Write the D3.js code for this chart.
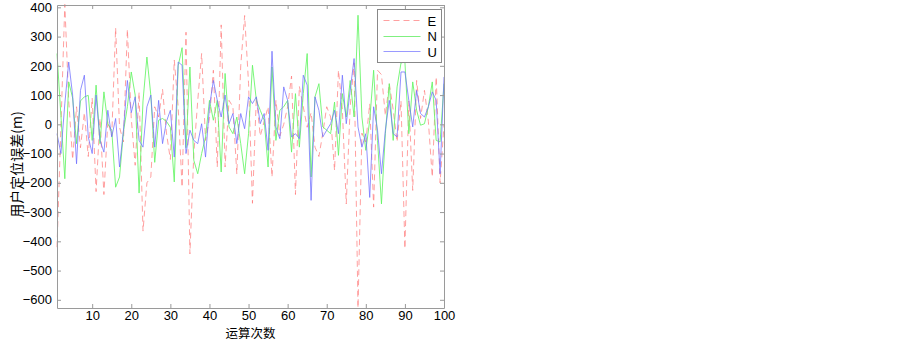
<!DOCTYPE html>
<html>
<head>
<meta charset="utf-8">
<script src="https://cdn.jsdelivr.net/npm/d3@7"></script>
<style>
  body { margin: 0; background: #fff; }
  svg { display: block; }
  .tick text { font-family: "Liberation Sans", Arial, sans-serif; font-size: 13px; fill: #000; }
</style>
</head>
<body>
<div id="chart"></div>
<script>
// Positioning error per run (m)
const runs = d3.range(1, 101);

const seriesE = [-420, -10, 410, 80, -120, 60, -80, 40, -110, 90,
  -230, 20, -240, 10, -40, 330, -10, -60, 325, 20,
  -140, 110, -365, -200, -180, 60, 25, 120, -30, -120,
  220, 60, -215, 315, -443, -100, 80, 242, -55, 20,
  185, -146, 340, -146, 82, 60, -170, 200, 372, 140,
  -270, 94, -40, 10, 60, -180, 82, -40, 0, 60,
  165, -240, 130, 60, -10, 40, -78, -110, -30, 60,
  25, -158, 185, 50, -272, 60, 210, -628, -30, -60,
  70, -283, 185, 170, 30, 140, 50, -60, 80, -425,
  80, -226, 150, 20, 116, 10, -180, 162, -200, 0];

const seriesN = [242, 30, -186, 145, 90, -66, 80, 94, 99, -55,
  134, -66, 111, 2, -20, -215, -180, -25, 60, 179,
  100, -235, 80, 230, 100, -130, 14, 20, 10, -10,
  -197, 200, 262, -80, 196, -123, -169, -100, -43, 82,
  14, 82, -163, 174, -9, -32, 25, -66, -169, -32,
  202, 82, 48, 14, -146, 196, -55, 48, 60, 82,
  -95, 105, -78, 105, 242, -180, 94, 139, -9, -20,
  -32, 76, -106, 105, 25, 150, 25, 373, 25, -89,
  14, 185, -55, -272, -32, 139, -55, 128, 210, 213,
  -32, 145, 48, -3, 2, 60, 145, -55, -60, 139];

const seriesU = [-32, -100, 70, 213, 100, -135, 116, 168, -43, -100,
  100, -55, -95, 48, -43, 20, -146, -20, 150, 40,
  94, -55, -78, 60, 100, -78, 82, -66, 10, 48,
  -112, 213, 202, -100, -20, -55, -66, 2, -112, 60,
  150, 82, 25, 100, 2, 37, -66, 37, -15, 94,
  71, 94, 2, 37, -89, 250, -9, -49, 128, 82,
  -43, -32, -49, 168, 134, -260, 94, 48, -43, -20,
  2, 48, -32, 168, 2, 116, 225, -9, -78, -32,
  -250, 60, -20, -169, -20, 82, -32, -43, 179, 179,
  82, -9, 116, 37, 25, 60, 111, 82, -169, 162];

const seriesNames = ["E", "N", "U"];
const xTicks = [10, 20, 30, 40, 50, 60, 70, 80, 90, 100];
const yTicks = [400, 300, 200, 100, 0, -100, -200, -300, -400, -500, -600];

const width = 903, height = 341;
const margin = {top: 5, right: 459, bottom: 33, left: 57};
const plotW = width - margin.left - margin.right;
const plotH = height - margin.top - margin.bottom;

const svg = d3.select("#chart").append("svg")
  .attr("width", width)
  .attr("height", height);

const g = svg.append("g")
  .attr("transform", `translate(${margin.left},${margin.top})`);

const x = d3.scaleLinear().domain([1, 100]).range([0, plotW]);
const y = d3.scaleLinear().domain([-628, 408]).range([plotH, 0]);

const styles = {
  E: {color: "rgba(255, 120, 120, 0.7)", legend: "#ffa0a0", dash: "6,4"},
  N: {color: "rgba(100, 245, 100, 0.85)", legend: "#80f080", dash: null},
  U: {color: "rgba(110, 110, 255, 0.75)", legend: "#9a9aff", dash: null}
};
const data = {E: seriesE, N: seriesN, U: seriesU};

const line = d3.line()
  .x((d, i) => x(runs[i]))
  .y(d => y(d));

// draw in order E, N, U
seriesNames.forEach(name => {
  g.append("path")
    .datum(data[name])
    .attr("fill", "none")
    .attr("stroke", styles[name].color)
    .attr("stroke-width", 1)
    .attr("stroke-dasharray", styles[name].dash)
    .attr("d", line);
});

// axes, ticks pointing inward on all four sides
const axisColor = "#9a9a9a";
const bottomAxis = g.append("g")
  .attr("transform", `translate(0,${plotH})`)
  .call(d3.axisBottom(x).tickValues(xTicks).tickSizeInner(-4).tickSizeOuter(0).tickPadding(3));
const topAxis = g.append("g")
  .call(d3.axisTop(x).tickValues(xTicks).tickSizeInner(-4).tickSizeOuter(0).tickFormat(""));
const leftAxis = g.append("g")
  .call(d3.axisLeft(y).tickValues(yTicks).tickSizeInner(-4).tickSizeOuter(0).tickPadding(5));
const rightAxis = g.append("g")
  .attr("transform", `translate(${plotW},0)`)
  .call(d3.axisRight(y).tickValues(yTicks).tickSizeInner(-4).tickSizeOuter(0).tickFormat(""));

[bottomAxis, topAxis, leftAxis, rightAxis].forEach(a => {
  a.select(".domain").attr("stroke", axisColor);
  a.selectAll(".tick line").attr("stroke", axisColor);
});

// axis titles
svg.append("text")
  .attr("x", margin.left + plotW / 2)
  .attr("y", 338)
  .attr("text-anchor", "middle")
  .style("font-family", "'Noto Sans CJK SC', sans-serif")
  .style("font-size", "12.5px")
  .text("运算次数");

svg.append("text")
  .attr("transform", `translate(22,${margin.top + plotH / 2 + 8}) rotate(-90)`)
  .attr("text-anchor", "middle")
  .style("font-family", "'Noto Sans CJK SC', sans-serif")
  .style("font-size", "14px")
  .text("用户定位误差(m)");

// legend
const legend = svg.append("g").attr("transform", "translate(377.5,9.5)");
legend.append("rect")
  .attr("width", 64)
  .attr("height", 53)
  .attr("fill", "#fff")
  .attr("stroke", "#888");

seriesNames.forEach((name, i) => {
  const ly = 11 + i * 15.5;
  legend.append("line")
    .attr("x1", 6).attr("x2", 43)
    .attr("y1", Math.round(ly)).attr("y2", Math.round(ly))
    .attr("stroke", styles[name].legend)
    .attr("stroke-width", 1)
    .attr("stroke-dasharray", styles[name].dash);
  legend.append("text")
    .attr("x", 50)
    .attr("y", ly + 5)
    .style("font-family", "'Liberation Sans', Arial, sans-serif")
    .style("font-size", "13px")
    .text(name);
});
</script>
</body>
</html>
